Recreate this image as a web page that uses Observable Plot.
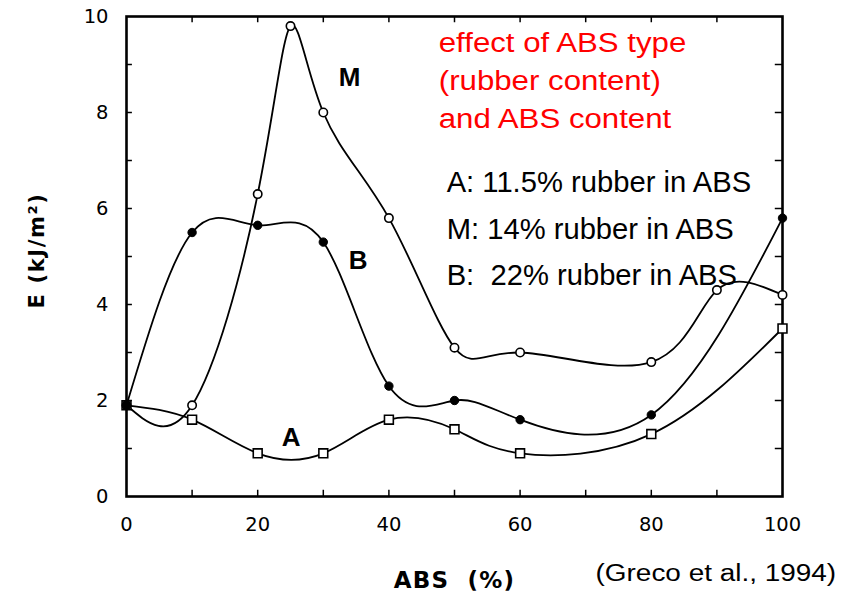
<!DOCTYPE html>
<html>
<head>
<meta charset="utf-8">
<script src="https://cdn.jsdelivr.net/npm/d3@7"></script>
<script src="https://cdn.jsdelivr.net/npm/@observablehq/plot@0.6"></script>
<style>
  html, body { margin: 0; padding: 0; background: #fff; }
</style>
</head>
<body>
<div id="chart"></div>
<script>
// ABS content (%) at which each blend was tested
const absAB = [0, 10, 20, 30, 40, 50, 60, 80, 100];
const absM = [0, 10, 20, 25, 30, 40, 50, 60, 80, 90, 100];

// Fracture energy E (kJ/m²) for each ABS type
const eA = [1.9, 1.6, 0.9, 0.9, 1.6, 1.4, 0.9, 1.3, 3.5];        // 11.5 % rubber
const eM = [1.9, 1.9, 6.3, 9.8, 8.0, 5.8, 3.1, 3.0, 2.8, 4.3, 4.2]; // 14 % rubber
const eB = [1.9, 5.5, 5.65, 5.3, 2.3, 2.0, 1.6, 1.7, 5.8];        // 22 % rubber

// Axis ticks
const xTickLabels = [0, 20, 40, 60, 80, 100];
const yTickLabels = [0, 2, 4, 6, 8, 10];
const xMinorTicks = [10, 20, 30, 40, 50, 60, 70, 80, 90];
const yMinorTicks = [1, 2, 3, 4, 5, 6, 7, 8, 9];

// Curve letters and text notes (placed in data units)
const curveLabels = [
  {x: 34, y: 8.56, text: "M"},
  {x: 35.3, y: 4.75, text: "B"},
  {x: 25.1, y: 1.06, text: "A"}
];
const titleLines = [
  {x: 47.6, y: 9.27, text: "effect of ABS type"},
  {x: 47.6, y: 8.46, text: "(rubber content)"},
  {x: 47.6, y: 7.67, text: "and ABS content"}
];
const keyLines = [
  {x: 48.8, y: 6.35, text: "A: 11.5% rubber in ABS"},
  {x: 48.8, y: 5.37, text: "M: 14% rubber in ABS"},
  {x: 48.8, y: 4.40, text: "B:  22% rubber in ABS"}
];
const sourceNote = [{x: 71.5, y: -1.75, text: "(Greco et al., 1994)"}];
const xTitle = "ABS  (%)";
const yTitle = "E (kJ/m²)";

const seriesA = absAB.map((x, i) => ({x, y: eA[i]}));
const seriesB = absAB.map((x, i) => ({x, y: eB[i]}));
const seriesM = absM.map((x, i) => ({x, y: eM[i]}));

const sans = "Liberation Sans, Arial, sans-serif";
const dejavu = "DejaVu Sans, sans-serif";
const curve = "natural";

const chart = Plot.plot({
  width: 842,
  height: 598,
  marginLeft: 126,
  marginRight: 60,
  marginTop: 16,
  marginBottom: 102,
  x: {domain: [0, 100]},
  y: {domain: [0, 10]},
  style: {fontFamily: dejavu, background: "#fff", color: "#000"},
  marks: [
    Plot.axisX(xTickLabels, {tickSize: 0, tickPadding: 21, fontSize: 19.5, label: null}),
    Plot.axisY(yTickLabels, {tickSize: 0, tickPadding: 18, fontSize: 19.5, label: null}),
    // inward tick marks on all four sides
    Plot.ruleX(xMinorTicks, {y1: 0, y2: 0.13, stroke: "#000", strokeWidth: 1.5}),
    Plot.ruleX(xMinorTicks, {y1: 10, y2: 9.87, stroke: "#000", strokeWidth: 1.5}),
    Plot.ruleY(yMinorTicks, {x1: 0, x2: 0.9, stroke: "#000", strokeWidth: 1.5}),
    Plot.ruleY(yMinorTicks, {x1: 100, x2: 98.9, stroke: "#000", strokeWidth: 1.5}),
    Plot.frame({stroke: "#000", strokeWidth: 2.6}),
    // smooth curves through the measured points
    Plot.line(seriesA, {x: "x", y: "y", curve, stroke: "#000", strokeWidth: 1.8}),
    Plot.line(seriesM, {x: "x", y: "y", curve, stroke: "#000", strokeWidth: 1.8}),
    Plot.line(seriesB, {x: "x", y: "y", curve, stroke: "#000", strokeWidth: 1.8}),
    Plot.dot(seriesA, {x: "x", y: "y", symbol: "square", r: 5, fill: "#fff", stroke: "#000", strokeWidth: 1.6}),
    Plot.dot(seriesM, {x: "x", y: "y", symbol: "circle", r: 4.2, fill: "#fff", stroke: "#000", strokeWidth: 1.6}),
    Plot.dot(seriesB, {x: "x", y: "y", symbol: "circle", r: 4.2, fill: "#000", stroke: "#000", strokeWidth: 1}),
    Plot.text(curveLabels, {x: "x", y: "y", text: "text", lineAnchor: "bottom", textAnchor: "middle",
      fontSize: 26, fontWeight: "bold", fontFamily: sans, fill: "#000"}),
    Plot.text(titleLines, {x: "x", y: "y", text: "text", lineAnchor: "bottom", textAnchor: "start",
      fontSize: 28, fontFamily: sans, fill: "#ff0000"}),
    Plot.text(keyLines, {x: "x", y: "y", text: "text", lineAnchor: "bottom", textAnchor: "start",
      fontSize: 29.2, fontFamily: sans, fill: "#000"}),
    Plot.text(sourceNote, {x: "x", y: "y", text: "text", lineAnchor: "bottom", textAnchor: "start",
      fontSize: 24.5, fontFamily: sans, fill: "#000"}),
    // axis titles
    Plot.text([xTitle], {frameAnchor: "bottom", dy: 91, lineAnchor: "bottom", textAnchor: "middle",
      fontSize: 23, fontWeight: "bold", fontFamily: dejavu, fill: "#000"}),
    Plot.text([yTitle], {frameAnchor: "left", dx: -89, dy: -6, rotate: -90, textAnchor: "middle",
      fontSize: 21, fontWeight: "bold", fontFamily: dejavu, fill: "#000"})
  ]
});

const svg = d3.select(chart);

// widen the red heading and the source note horizontally
const widened = new Map([
  ...titleLines.map(d => [d.text, 1.115]),
  [sourceNote[0].text, 1.14]
]);
// letter spacing for the axis titles
const spaced = new Map([[xTitle, 1.2], [yTitle, 1.6]]);

svg.selectAll("text").each(function () {
  const s = spaced.get(this.textContent);
  if (s) this.setAttribute("letter-spacing", s);
  const k = widened.get(this.textContent);
  if (!k) return;
  const t = this.getAttribute("transform");
  if (t) this.setAttribute("transform", `${t} scale(${k},1)`);
  else {
    const x = +this.getAttribute("x") || 0, y = +this.getAttribute("y") || 0;
    this.setAttribute("transform", `translate(${x},${y}) scale(${k},1)`);
    this.setAttribute("x", 0);
    this.setAttribute("y", 0);
  }
});

document.getElementById("chart").append(chart);
</script>
</body>
</html>
